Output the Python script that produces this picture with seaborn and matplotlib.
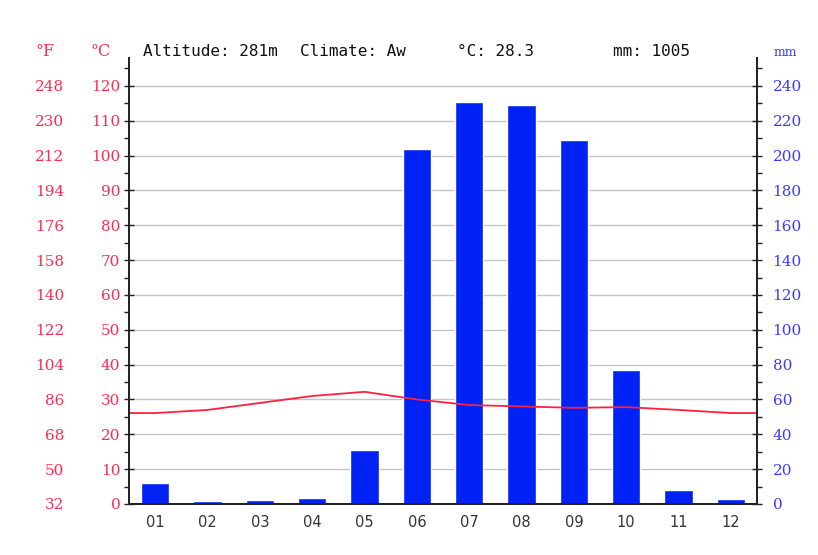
import numpy as np
import pandas as pd
import seaborn as sns
import matplotlib.pyplot as plt
from matplotlib.ticker import MultipleLocator, FixedLocator

months = ["01", "02", "03", "04", "05", "06", "07", "08", "09", "10", "11", "12"]
precip_mm = [12, 2, 2.5, 3.5, 31, 204, 231, 229, 209, 77, 8, 3]
temp_c = [26.1, 27.0, 29.0, 31.0, 32.2, 30.0, 28.4, 28.0, 27.6, 27.8, 27.0, 26.1]
altitude = "281m"
climate = "Aw"
mean_c = 28.3
total_mm = 1005

red = "#ff2a4f"
blue_lab = "#3a3aff"
bar_blue = "#0022f5"

sns.set_style("white")
df = pd.DataFrame({"month": months, "mm": precip_mm, "temp": temp_c})

fig = plt.figure(figsize=(8.18, 5.55), dpi=100)
ax2 = fig.add_axes([0.1577, 0.0919, 0.7677, 0.8036])  # mm axis (bars)
ax = ax2.twinx()  # temperature axis
ax.set_zorder(ax2.get_zorder() + 1)
ax.patch.set_visible(False)

sns.barplot(data=df, x="month", y="mm", color=bar_blue, width=0.54,
            saturation=1, ax=ax2)
ax2.set_ylim(0, 256)
ax2.set_xlim(-0.5, 11.5)
ax2.yaxis.tick_right()
ax2.yaxis.set_label_position("right")
ax2.set_yticks(np.arange(0, 241, 20))
ax2.yaxis.set_minor_locator(MultipleLocator(10))
ax2.grid(axis="y", color="#c4c4c4", lw=1)
ax2.set_axisbelow(True)
ax2.set_xlabel("")
ax2.set_ylabel("")

# x ticks at month boundaries, labels at centres
ax2.xaxis.set_major_locator(FixedLocator(np.arange(-0.5, 12, 1)))
ax2.xaxis.set_major_formatter(plt.NullFormatter())
ax2.xaxis.set_minor_locator(FixedLocator(np.arange(12)))
ax2.set_xticklabels(months, minor=True)
ax2.tick_params(axis="x", which="major", direction="inout", length=8, width=1.2, color="#222222")
ax2.tick_params(axis="x", which="minor", length=0, pad=8, labelsize=10.5, labelcolor="#333333")

ax2.tick_params(axis="y", which="major", direction="inout", length=6.5, width=1, color="#222222",
                labelcolor=blue_lab, labelsize=11, pad=8)
ax2.tick_params(axis="y", which="minor", direction="out", length=3.5, width=1, color="#222222")
for lab in ax2.get_yticklabels():
    lab.set_family("DejaVu Serif")

# temperature line, held flat to both edges
xs = np.concatenate([[-0.5], np.arange(12), [11.5]])
ys = np.concatenate([[temp_c[0]], temp_c, [temp_c[-1]]])
sns.lineplot(x=xs, y=ys, color="#ff2040", lw=1.3, sort=False, ax=ax)
ax.set_ylim(0, 128)
ax.yaxis.tick_left()
ax.set_yticks(np.arange(0, 121, 10))
ax.yaxis.set_minor_locator(MultipleLocator(5))
ax.tick_params(axis="y", which="major", direction="inout", length=6.5, width=1, color="#222222",
               labelcolor=red, labelsize=11, pad=3)
ax.tick_params(axis="y", which="minor", direction="out", length=3.5, width=1, color="#222222")
for lab in ax.get_yticklabels():
    lab.set_family("DejaVu Serif")

for a in (ax, ax2):
    a.spines["top"].set_visible(False)
    for s in ("left", "right", "bottom"):
        a.spines[s].set_color("#222222")
        a.spines[s].set_linewidth(1.3)

# Fahrenheit column
secf = ax.secondary_yaxis(-0.097, functions=(lambda c: c * 1.8 + 32, lambda f: (f - 32) / 1.8))
secf.set_yticks([32 + 18 * i for i in range(13)])
secf.spines["left"].set_visible(False)
secf.tick_params(length=0, labelcolor=red, labelsize=11, pad=3)
for lab in secf.get_yticklabels():
    lab.set_family("DejaVu Serif")

# header texts
fig.text(45 / 818, 1 - 52 / 555, "°F", color=red, fontsize=11.5, family="DejaVu Serif", ha="center", va="center")
fig.text(101 / 818, 1 - 52 / 555, "°C", color=red, fontsize=11.5, family="DejaVu Serif", ha="center", va="center")
fig.text(785 / 818, 1 - 53 / 555, "mm", color=blue_lab, fontsize=9, family="DejaVu Serif", ha="center", va="center")
mono = dict(fontsize=11.5, family="DejaVu Sans Mono", color="#111111", va="center")
fig.text(143 / 818, 1 - 51 / 555, f"Altitude: {altitude}", **mono)
fig.text(300 / 818, 1 - 51 / 555, f"Climate: {climate}", **mono)
fig.text(457 / 818, 1 - 51 / 555, f"°C: {mean_c}", **mono)
fig.text(613 / 818, 1 - 51 / 555, f"mm: {total_mm}", **mono)

fig.savefig("out.png", dpi=100)
